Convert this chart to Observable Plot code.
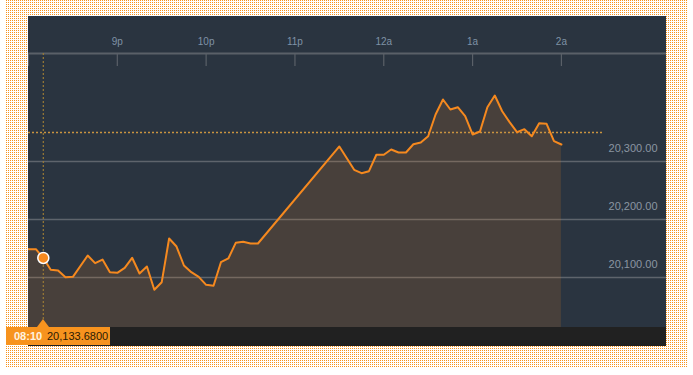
<!DOCTYPE html>
<html><head><meta charset="utf-8">
<script src="https://cdn.jsdelivr.net/npm/d3@7"></script>
<script src="https://cdn.jsdelivr.net/npm/@observablehq/plot@0.6"></script>
<style>
html,body{margin:0;padding:0;background:#fff;}
body{width:693px;height:375px;overflow:hidden;position:relative;font-family:"Liberation Sans",Arial,sans-serif;}
#dots{position:absolute;left:6px;top:0;width:681px;height:367px;
  background:conic-gradient(at 1px 1px, transparent 75%, #f7931e 0) 0 0/2px 2px, #fff;}
#panel{position:absolute;left:28px;top:16px;width:638px;height:330px;background:#2a3440;}
#panel svg{display:block;}
#bar{position:absolute;left:28px;top:327px;width:638px;height:19px;background:#212121;}
#tag{position:absolute;left:6px;top:327px;width:104px;height:18px;background:#f7931e;
  font-size:11px;line-height:18px;white-space:nowrap;}
#tag .t{position:absolute;left:8px;color:#fff3e0;font-weight:bold;}
#tag .v{position:absolute;left:41px;color:#2a1a05;}
#tri{position:absolute;width:0;height:0;border-left:6px solid transparent;border-right:6px solid transparent;border-bottom:8px solid #f7931e;top:319px;}
</style></head>
<body>
<div id="dots"></div>
<div id="panel"></div>
<div id="bar"></div>
<div id="tri"></div>
<div id="tag"><span class="t"></span><span class="v"></span></div>
<script>
// 5-minute readings, 8pm to 2am (gaps where no reading is visible)
const times = ["20:00","20:05","20:10","20:15","20:20","20:25","20:30","20:40","20:45","20:50","20:55",
  "21:00","21:05","21:10","21:15","21:20","21:25","21:30","21:35","21:40","21:45","21:50","21:55",
  "22:00","22:05","22:10","22:15","22:20","22:25","22:30","22:35",
  "23:30","23:40","23:45","23:50","23:55",
  "00:00","00:05","00:10","00:15","00:20","00:25","00:30","00:35","00:40","00:45","00:50","00:55",
  "01:00","01:05","01:10","01:15","01:20","01:25","01:30","01:35","01:40","01:45","01:50","01:55","02:00"];
const values = [20148.8,20148.8,20133.68,20113.3,20112.1,20100.5,20101.2,20137.9,20124.7,20131.0,20109.1,
  20108.1,20116.7,20134.0,20106.9,20119.0,20078.8,20091.9,20167.2,20153.4,20120.7,20109.1,20101.2,
  20087.4,20085.7,20126.4,20132.8,20159.8,20161.6,20158.6,20158.6,
  20325.9,20285.7,20279.8,20283.3,20311.6,
  20311.6,20320.7,20315.5,20315.5,20329.8,20332.8,20343.6,20381.0,20406.9,20389.7,20393.6,20378.1,
  20346.6,20351.7,20393.6,20413.8,20386.7,20367.8,20350.5,20355.7,20343.6,20366.0,20365.0,20335.0,20329.3];
const xTickTimes = ["21:00","22:00","23:00","00:00","01:00","02:00"];
const xTickLabels = ["9p","10p","11p","12a","1a","2a"];
const yTicks = [20100, 20200, 20300];
const referenceValue = 20350;
const referenceEnd = "02:29";
const cursorTime = "20:10";
const xStart = "20:00", xEnd = "03:11";
const yDomain = [20013.8, 20486.2];

function toDate(s) {
  const [h, m] = s.split(":").map(Number);
  return new Date(2017, 0, h < 12 ? 2 : 1, h, m);
}
const data = times.map((t, i) => ({date: toDate(t), value: values[i]}));
const cursor = data.find(d => +d.date === +toDate(cursorTime));
const tickDates = xTickTimes.map(toDate);
const edgeTicks = [toDate(xStart), toDate(xEnd)];
const labelFor = d => { const i = tickDates.findIndex(t => +t === +d); return i < 0 ? "" : xTickLabels[i]; };

const orange = "#f5891f";
const chart = Plot.plot({
  width: 638, height: 330,
  marginTop: 37, marginBottom: 19, marginLeft: 0, marginRight: 0,
  style: {background: "transparent", fontFamily: "'Liberation Sans', Arial, sans-serif"},
  x: {type: "time", domain: [toDate(xStart), toDate(xEnd)], label: null},
  y: {domain: yDomain, label: null},
  marks: [
    Plot.gridY(yTicks, {stroke: "#5e646c", strokeOpacity: 1, strokeWidth: 1.5}),
    Plot.ruleY([yDomain[1]], {stroke: "#5a6068", strokeWidth: 2}),
    Plot.axisX([...tickDates, ...edgeTicks], {anchor: "top", tickSize: -12, stroke: "#5a6068", strokeWidth: 1.2, text: null, label: null}),
    Plot.axisX(tickDates, {anchor: "top", tickSize: 0, tickPadding: 9, tickFormat: labelFor,
      fill: "#7f92a6", fontSize: 10, label: null}),
    Plot.axisY(yTicks, {anchor: "right", tickSize: 0, tickPadding: 0, textAnchor: "end", dx: -9, dy: -13,
      tickFormat: d3.format(",.2f"), fill: "#8a96a2", fontSize: 11, label: null}),
    Plot.areaY(data, {x: "date", y1: () => yDomain[0], y2: "value", fill: orange, fillOpacity: 0.15}),
    Plot.ruleY([referenceValue], {x1: toDate(xStart), x2: toDate(referenceEnd), stroke: "#c99440", strokeWidth: 1.6, strokeDasharray: "2,2"}),
    Plot.ruleX([cursor.date], {stroke: "#9a7a36", strokeWidth: 1.2, strokeDasharray: "2,2"}),
    Plot.lineY(data, {x: "date", y: "value", stroke: orange, strokeWidth: 2}),
    Plot.dot([cursor], {x: "date", y: "value", r: 5.5, fill: orange, stroke: "#fff", strokeWidth: 1.5})
  ]
});
document.getElementById("panel").appendChild(chart);
const cx = 28 + chart.scale("x").apply(cursor.date);
document.getElementById("tri").style.left = (cx - 6) + "px";
document.querySelector("#tag .t").textContent = d3.timeFormat("%I:%M")(cursor.date);
document.querySelector("#tag .v").textContent = d3.format(",.4f")(cursor.value);
</script>
</body></html>
